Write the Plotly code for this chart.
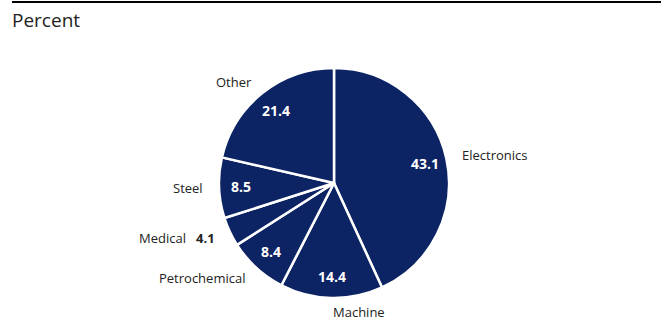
import math
import plotly.graph_objects as go

categories = ["Electronics", "Machine", "Petrochemical", "Medical", "Steel", "Other"]
values = [43.1, 14.4, 8.4, 4.1, 8.5, 21.4]
value_labels = ["43.1", "14.4", "8.4", "4.1", "8.5", "21.4"]
inside_show = [True, True, True, False, True, True]

navy = "#0c2364"
W, H = 661, 322
cx, cy, r = 334, 183, 115
m_t, m_b = cy - r, H - (cy + r)
plot_h = H - m_t - m_b
dom_x = [(cx - r) / W, (cx + r) / W]

fig = go.Figure()
fig.add_trace(go.Pie(
    labels=categories, values=values, sort=False, direction="clockwise", rotation=0,
    marker=dict(colors=[navy] * len(values), line=dict(color="white", width=2.5)),
    textinfo="none",
    domain=dict(x=dom_x, y=[0, 1]), showlegend=False, hoverinfo="skip",
))


def to_paper(xp, yp):
    return xp / W, (H - m_b - yp) / plot_h


# labels placed at each slice's mid-angle (computed from the data)
total = sum(values)
cum = 0.0
for cat, v, lab, s in zip(categories, values, value_labels, inside_show):
    theta = 2 * math.pi * (cum + v / 2) / total
    cum += v
    sn, cs = math.sin(theta), math.cos(theta)
    if s:
        rr = 0.81 * r
        x, y = to_paper(cx + rr * sn, cy - rr * cs)
        fig.add_annotation(text=f"<b>{lab}</b>", xref="paper", yref="paper",
                           x=x, y=y, xanchor="center", yanchor="middle", showarrow=False,
                           font=dict(family="Open Sans", size=14, color="white"))
    ro = 1.12 * r
    x, y = to_paper(cx + ro * sn, cy - ro * cs)
    txt = cat if s else f"{cat}   <b>{lab}</b>"
    xa = "left" if sn >= -0.05 else "right"
    fig.add_annotation(text=txt, xref="paper", yref="paper", x=x, y=y,
                       xanchor=xa, yanchor="middle", showarrow=False,
                       font=dict(family="Open Sans", size=13, color="#222222"))

fig.add_shape(type="line", xref="paper", yref="paper",
              x0=12 / W, x1=1, y0=(H - m_b - 2) / plot_h, y1=(H - m_b - 2) / plot_h,
              line=dict(color="black", width=2))
fig.add_annotation(text="Percent", xref="paper", yref="paper",
                   x=10 / W, y=(H - m_b - 20) / plot_h, xanchor="left", yanchor="middle",
                   showarrow=False, font=dict(family="Open Sans", size=19, color="#222222"))

fig.update_layout(
    width=W, height=H, margin=dict(l=0, r=0, t=m_t, b=m_b),
    paper_bgcolor="white", plot_bgcolor="white",
)
fig.write_html("out.html")
